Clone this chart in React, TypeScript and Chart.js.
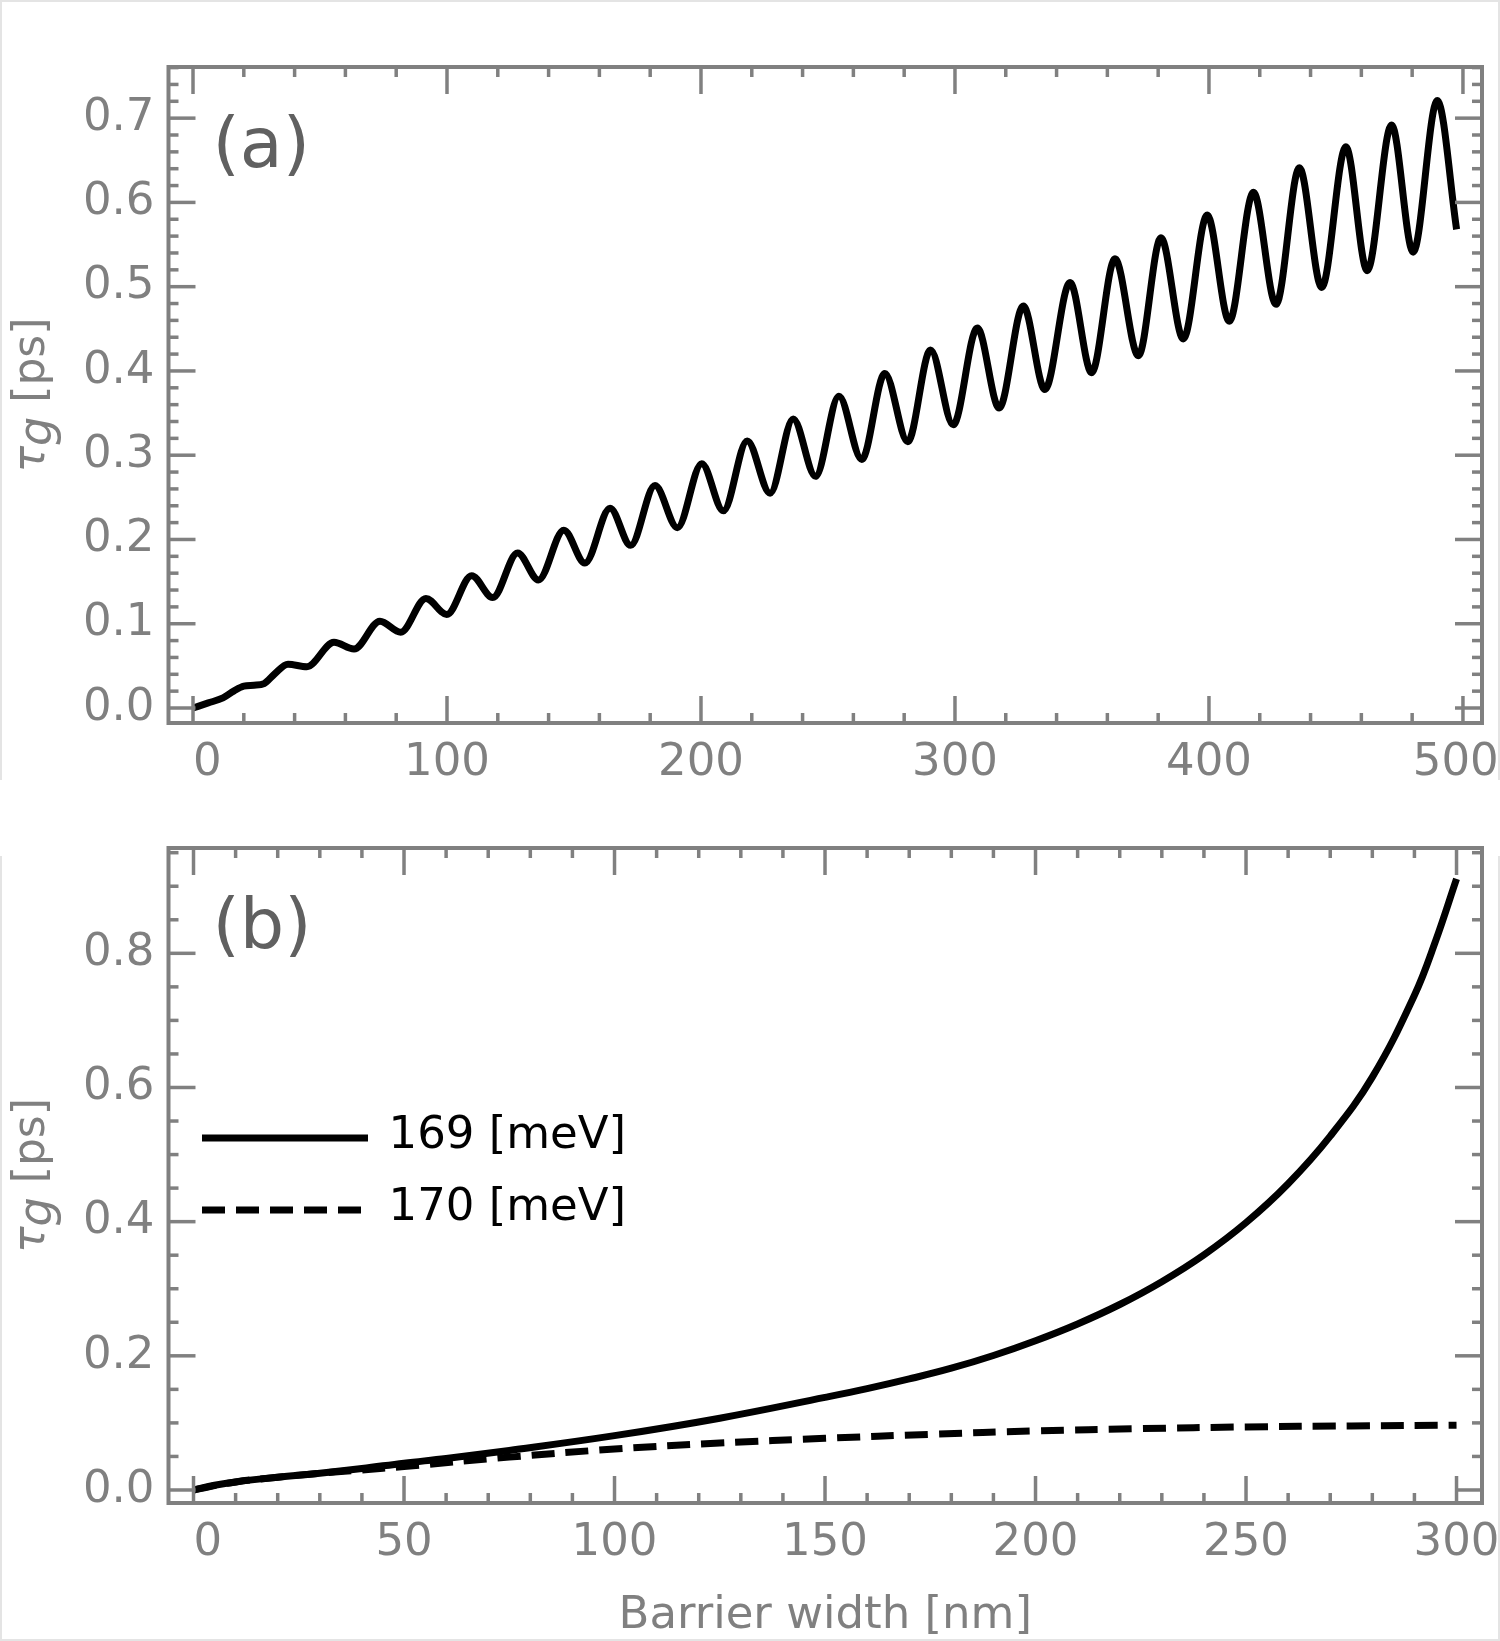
// App.tsx
import { useEffect, useRef } from "react";
import { Chart, registerables } from "chart.js";
import type { ChartConfiguration, Scale } from "chart.js";

Chart.register(...registerables);

const GRAY = "#808080";
const FONT = "'DejaVu Sans', Verdana, sans-serif";
const MAJOR_LEN = 27;
const MINOR_LEN = 10;

// (a) tau_g vs barrier width (peaks / troughs)
const widthA = [
  0, 6, 11.8, 16, 20, 24, 28, 32, 37.4, 44.8, 55.5, 63.4, 73.6, 81.8, 91.7, 99.9,
  109.7, 118, 127.8, 136, 146, 154.3, 164.2, 172.3, 181.9, 190.7, 200.3, 208.8,
  218.2, 227.2, 236.3, 245.1, 254.3, 263.3, 272.4, 281.4, 290.4, 299.3, 308.8,
  317.4, 326.9, 335.4, 345.3, 353.8, 363, 372.2, 381.1, 389.9, 399.3, 408,
  417.5, 426.4, 435.6, 444.4, 453.9, 462.3, 471.9, 480.4, 489.9, 497.5,
];
const tauA = [
  0, 0.006, 0.012, 0.02, 0.026, 0.027, 0.029, 0.04, 0.052, 0.049, 0.078, 0.07, 0.103, 0.09, 0.13, 0.111,
  0.157, 0.131, 0.184, 0.152, 0.211, 0.172, 0.237, 0.193, 0.264, 0.214, 0.29, 0.234,
  0.317, 0.255, 0.343, 0.275, 0.37, 0.295, 0.397, 0.316, 0.425, 0.336, 0.451,
  0.356, 0.477, 0.378, 0.505, 0.398, 0.533, 0.418, 0.558, 0.438, 0.585, 0.459,
  0.612, 0.479, 0.641, 0.499, 0.666, 0.519, 0.692, 0.541, 0.721, 0.568,
];
const xTicksA = [0, 100, 200, 300, 400, 500];
const yTicksA = [0, 0.1, 0.2, 0.3, 0.4, 0.5, 0.6, 0.7];

// (b) two energies
const width169 = [
  0, 5, 10, 20, 30, 40, 50, 60, 75, 100, 125, 150, 160, 170, 180, 190, 200, 210, 220,
  230, 240, 250, 260, 270, 280, 290, 295, 300,
];
const tau169 = [
  0, 0.007, 0.012, 0.019, 0.025, 0.032, 0.04, 0.047, 0.059, 0.081, 0.107, 0.138, 0.151, 0.1655, 0.1815, 0.2005,
  0.2225, 0.2475, 0.2765, 0.3105, 0.3505, 0.3985, 0.4565, 0.5275, 0.6155, 0.7375, 0.818, 0.911,
];
const width170 = [0, 10, 20, 30, 40, 50, 75, 100, 125, 150, 175, 200, 225, 250, 275, 300];
const tau170 = [0, 0.012, 0.019, 0.025, 0.0298, 0.035, 0.049, 0.061, 0.07, 0.077, 0.083, 0.088, 0.0915, 0.094, 0.0955, 0.0966];
const xTicksB = [0, 50, 100, 150, 200, 250, 300];
const yTicksB = [0, 0.2, 0.4, 0.6, 0.8];
const seriesLabels = ["169 [meV]", "170 [meV]"];

type FrameOpts = {
  xMinor: number;
  yMinor: number;
  letter: string;
  legend?: boolean;
  xTitle?: string;
};

const framePlugin = {
  id: "frame",
  afterDraw(chart: Chart, _args: unknown, o: FrameOpts) {
    const { ctx, chartArea: a } = chart;
    const sx = chart.scales.x as Scale;
    const sy = chart.scales.y as Scale;
    const seg = (x1: number, y1: number, x2: number, y2: number) => {
      ctx.beginPath();
      ctx.moveTo(x1, y1);
      ctx.lineTo(x2, y2);
      ctx.stroke();
    };
    const marks = (scale: Scale, step: number) => {
      const major = scale.ticks.map((t) => t.value);
      const minor: number[] = [];
      for (let k = Math.ceil(scale.min / step); k * step <= scale.max; k++) {
        const v = k * step;
        if (!major.some((m) => Math.abs(m - v) < step / 2)) minor.push(v);
      }
      return { major, minor };
    };

    ctx.save();
    ctx.strokeStyle = GRAY;
    ctx.lineWidth = 3.5;
    const xm = marks(sx, o.xMinor);
    const ym = marks(sy, o.yMinor);
    ([[xm.major, MAJOR_LEN], [xm.minor, MINOR_LEN]] as [number[], number][]).forEach(([vals, len]) =>
      vals.forEach((v) => {
        const p = sx.getPixelForValue(v);
        seg(p, a.bottom, p, a.bottom - len);
        seg(p, a.top, p, a.top + len);
      })
    );
    ([[ym.major, MAJOR_LEN], [ym.minor, MINOR_LEN]] as [number[], number][]).forEach(([vals, len]) =>
      vals.forEach((v) => {
        const p = sy.getPixelForValue(v);
        seg(a.left, p, a.left + len, p);
        seg(a.right, p, a.right - len, p);
      })
    );
    ctx.lineWidth = 4;
    ctx.strokeRect(a.left, a.top, a.right - a.left, a.bottom - a.top);

    // panel letter
    ctx.fillStyle = "#606060";
    ctx.font = `70px ${FONT}`;
    ctx.textBaseline = "alphabetic";
    ctx.textAlign = "left";
    ctx.fillText(o.letter, a.left + 44, a.top + 100);

    // y title: tau_g [ps]
    ctx.save();
    ctx.translate(44, (a.top + a.bottom) / 2);
    ctx.rotate(-Math.PI / 2);
    ctx.fillStyle = GRAY;
    const fTau = `italic 44px ${FONT}`;
    const fG = `italic 46px ${FONT}`;
    const fRest = `44px ${FONT}`;
    ctx.font = fTau;
    const wTau = ctx.measureText("τ").width;
    ctx.font = fG;
    const wG = ctx.measureText("g").width;
    ctx.font = fRest;
    const wRest = ctx.measureText(" [ps]").width;
    let u = -(wTau + wG + wRest) / 2;
    ctx.font = fTau;
    ctx.fillText("τ", u, 0);
    u += wTau;
    ctx.font = fG;
    ctx.fillText("g", u, 7);
    u += wG;
    ctx.font = fRest;
    ctx.fillText(" [ps]", u, 0);
    ctx.restore();

    // legend
    if (o.legend) {
      chart.data.datasets.forEach((ds: any, i) => {
        const y = a.top + 290 + i * 72;
        ctx.strokeStyle = "#000";
        ctx.lineWidth = 7;
        ctx.setLineDash(ds.borderDash || []);
        seg(a.left + 33.5, y, a.left + 199.5, y);
        ctx.setLineDash([]);
        ctx.fillStyle = "#000";
        ctx.font = `45px ${FONT}`;
        ctx.textBaseline = "middle";
        ctx.fillText(ds.label, a.left + 220, y - 2);
      });
    }

    if (o.xTitle) {
      ctx.fillStyle = GRAY;
      ctx.font = `45px ${FONT}`;
      ctx.textAlign = "center";
      ctx.textBaseline = "alphabetic";
      ctx.fillText(o.xTitle, (a.left + a.right) / 2, a.bottom + 125);
    }
    ctx.restore();
  },
};

type PanelProps = {
  top: number;
  height: number;
  padTop: number;
  padBottom: number;
  xMin: number;
  xMax: number;
  yMin: number;
  yMax: number;
  xTicks: number[];
  yTicks: number[];
  datasets: any[];
  frame: FrameOpts;
  xLabel: (v: number) => string;
};

function Panel(p: PanelProps) {
  const canvasRef = useRef<HTMLCanvasElement | null>(null);

  useEffect(() => {
    const tickFont = { family: FONT, size: 45 };
    const config: ChartConfiguration<"line"> = {
      type: "line",
      data: { datasets: p.datasets },
      options: {
        animation: false,
        responsive: true,
        maintainAspectRatio: false,
        layout: { padding: { left: 0, right: 18, top: p.padTop, bottom: p.padBottom } },
        elements: { point: { radius: 0 } },
        plugins: {
          legend: { display: false },
          tooltip: { enabled: false },
          ...({ frame: p.frame } as any),
        },
        scales: {
          x: {
            type: "linear",
            min: p.xMin,
            max: p.xMax,
            afterBuildTicks: (s: any) => {
              s.ticks = p.xTicks.map((v) => ({ value: v }));
            },
            afterFit: (s: any) => {
              s.height = 60;
              s.paddingLeft = 0;
              s.paddingRight = 0;
            },
            grid: { display: false, drawTicks: false },
            border: { display: false },
            ticks: {
              color: GRAY,
              font: tickFont,
              padding: 13,
              maxRotation: 0,
              autoSkip: false,
              callback: (v) => p.xLabel(Number(v)),
            },
          },
          y: {
            type: "linear",
            min: p.yMin,
            max: p.yMax,
            afterBuildTicks: (s: any) => {
              s.ticks = p.yTicks.map((v) => ({ value: v }));
            },
            afterFit: (s: any) => {
              s.width = 168.5;
              s.paddingTop = 0;
              s.paddingBottom = 0;
            },
            grid: { display: false, drawTicks: false },
            border: { display: false },
            ticks: {
              color: GRAY,
              font: tickFont,
              padding: 14,
              autoSkip: false,
              callback: (v) => Number(v).toFixed(1),
            },
          },
        },
      },
      plugins: [framePlugin as any],
    };
    const chart = new Chart(canvasRef.current!, config);
    return () => chart.destroy();
  }, []);

  return (
    <div style={{ position: "absolute", left: 0, top: p.top, width: 1500, height: p.height }}>
      <canvas ref={canvasRef} />
    </div>
  );
}

const pts = (xs: number[], ys: number[]) => xs.map((x, i) => ({ x, y: ys[i] }));

export default function App() {
  const wavy = {
    borderColor: "#000",
    borderWidth: 7,
    cubicInterpolationMode: "monotone",
    pointRadius: 0,
    fill: false,
  };
  const smooth = {
    borderColor: "#000",
    borderWidth: 7,
    tension: 0.4,
    pointRadius: 0,
    fill: false,
  };
  const edge = { position: "absolute" as const, background: "#e4e4e4" };
  return (
    <div style={{ position: "absolute", left: 0, top: 0, width: 1500, height: 1641, background: "#fff", fontFamily: FONT }}>
      <div style={{ ...edge, left: 0, top: 0, width: 1500, height: 2 }} />
      <div style={{ ...edge, left: 0, top: 1639, width: 1500, height: 2 }} />
      <div style={{ ...edge, left: 0, top: 0, width: 2, height: 780 }} />
      <div style={{ ...edge, left: 0, top: 856, width: 2, height: 785 }} />
      <div style={{ ...edge, left: 1498, top: 0, width: 2, height: 780 }} />
      <div style={{ ...edge, left: 1498, top: 856, width: 2, height: 785 }} />
      <Panel
        top={0}
        height={790}
        padTop={67}
        padBottom={7}
        xMin={-9.65}
        xMax={507.5}
        yMin={-0.0178}
        yMax={0.7607}
        xTicks={xTicksA}
        yTicks={yTicksA}
        xLabel={(v) => (v === 0 ? "  0" : v === 500 ? "500 " : String(v))}
        datasets={[{ ...wavy, label: "tau", data: pts(widthA, tauA) }]}
        frame={{ xMinor: 20, yMinor: 0.02, letter: "(a)" }}
      />
      <Panel
        top={790}
        height={851}
        padTop={58}
        padBottom={78}
        xMin={-5.94}
        xMax={306.05}
        yMin={-0.0194}
        yMax={0.957}
        xTicks={xTicksB}
        yTicks={yTicksB}
        xLabel={(v) => (v === 0 ? "  0" : String(v))}
        datasets={[
          { ...smooth, label: seriesLabels[0], data: pts(width169, tau169) },
          { ...smooth, label: seriesLabels[1], data: pts(width170, tau170), borderDash: [23, 11] },
        ]}
        frame={{ xMinor: 10, yMinor: 0.05, letter: "(b)", legend: true, xTitle: "Barrier width [nm]" }}
      />
    </div>
  );
}
